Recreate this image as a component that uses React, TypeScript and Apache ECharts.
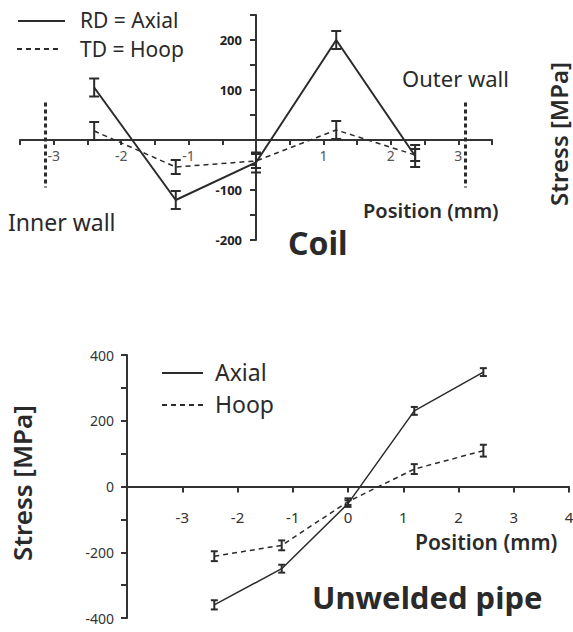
import React, { useEffect, useRef } from "react";
import * as echarts from "echarts";

// ---- Top chart (Coil) ----
const coilPositions = [-2.4, -1.19, 0, 1.19, 2.36];
const coilAxial = [105, -120, -45, 200, -32];
const coilAxialErr = [18, 18, 20, 18, 22];
const coilHoop = [18, -54, -42, 20, -30];
const coilHoopErr = [18, 14, 14, 18, 12];
const coilWallPositions = [-3.13, 3.1];
const coilWallRange = [75, -95];
const coilXRange = [-3.5, 3.5];
const coilYRange = [-200, 250];

// ---- Bottom chart (Unwelded pipe) ----
const pipePositions = [-2.42, -1.2, 0, 1.2, 2.45];
const pipeAxial = [-360, -250, -52, 230, 348];
const pipeAxialErr = [14, 12, 10, 12, 12];
const pipeHoop = [-212, -179, -46, 53, 109];
const pipeHoopErr = [15, 15, 10, 15, 18];
const pipeXRange = [-4, 4];
const pipeYRange = [-400, 400];

const INK = "#2b2b2b";
const FONT = "'Noto Sans'";

const G0 = { left: 20, top: 15, width: 472, height: 225 };
const G1 = { left: 127, top: 355, width: 442, height: 263 };

function errData(xs: number[], vs: number[], es: number[]) {
  return xs.map((x, i) => [x, vs[i] - es[i], vs[i] + es[i]]);
}

function errSeries(data: number[][], gi: number, half: number, width: number) {
  return {
    type: "custom",
    xAxisIndex: gi,
    yAxisIndex: gi,
    data,
    encode: { x: 0, y: [1, 2] },
    z: 5,
    renderItem: (params: any, api: any) => {
      const x = api.value(0);
      const lo = api.coord([x, api.value(1)]);
      const hi = api.coord([x, api.value(2)]);
      const st = { stroke: INK, lineWidth: width };
      return {
        type: "group",
        children: [
          { type: "line", shape: { x1: lo[0], y1: lo[1], x2: hi[0], y2: hi[1] }, style: st },
          { type: "line", shape: { x1: lo[0] - half, y1: lo[1], x2: lo[0] + half, y2: lo[1] }, style: st },
          { type: "line", shape: { x1: hi[0] - half, y1: hi[1], x2: hi[0] + half, y2: hi[1] }, style: st },
        ],
      };
    },
  };
}

function lineSeries(xs: number[], vs: number[], gi: number, dashed: boolean, width: number, extra: any = {}) {
  return {
    type: "line",
    xAxisIndex: gi,
    yAxisIndex: gi,
    data: xs.map((x, i) => [x, vs[i]]),
    symbol: "none",
    lineStyle: { color: INK, width, type: dashed ? [5, 4] : "solid" },
    z: 4,
    ...extra,
  };
}

// offset that moves a bottom x axis up to value 0 of the y range
function xOffset(yr: number[], h: number) {
  return -((0 - yr[0]) / (yr[1] - yr[0])) * h;
}
// offset that moves a left y axis right to value 0 of the x range
function yOffset(xr: number[], w: number) {
  return -((0 - xr[0]) / (xr[1] - xr[0])) * w;
}

export default function App() {
  const ref = useRef<HTMLDivElement>(null);
  useEffect(() => {
    if (!ref.current) return;
    const chart = echarts.init(ref.current, null, { renderer: "svg" });
    const axisLine = { onZero: false, lineStyle: { color: "#333", width: 2 } };
    const txt = (x: number, y: number, text: string, size: number, weight: any = "normal", extra: any = {}) => ({
      type: "text",
      x,
      y,
      style: {
        text,
        font: `${weight} ${size}px ${FONT}`,
        fill: "#2a2a2a",
        verticalAlign: "middle",
        align: "left",
      },
      ...extra,
    });
    const vtxt = (x: number, y: number, text: string, size: number) => ({
      type: "text",
      x,
      y,
      rotation: Math.PI / 2,
      style: {
        text,
        font: `600 ${size}px ${FONT}`,
        fill: "#2a2a2a",
        verticalAlign: "middle",
        align: "center",
      },
    });
    const gline = (x1: number, y1: number, x2: number, y2: number, dashed: boolean) => ({
      type: "line",
      shape: { x1, y1, x2, y2 },
      style: { stroke: INK, lineWidth: 2, lineDash: dashed ? [5, 4] : null },
    });

    chart.setOption({
      animation: false,
      backgroundColor: "#fff",
      grid: [
        { ...G0, outerBoundsMode: "none", containLabel: false },
        { ...G1, outerBoundsMode: "none", containLabel: false },
      ],
      xAxis: [
        {
          gridIndex: 0,
          type: "value",
          position: "bottom",
          offset: xOffset(coilYRange, G0.height),
          min: coilXRange[0],
          max: coilXRange[1],
          interval: 0.5,
          axisLine,
          axisTick: { show: true, length: 5, lineStyle: { color: "#333", width: 2 } },
          splitLine: { show: false },
          axisLabel: {
            margin: 8,
            color: "#555",
            fontFamily: FONT,
            fontSize: 14,
            formatter: (v: number) => (Number.isInteger(v) && v !== 0 ? String(v) : ""),
          },
        },
        {
          gridIndex: 1,
          type: "value",
          position: "bottom",
          offset: xOffset(pipeYRange, G1.height),
          min: pipeXRange[0],
          max: pipeXRange[1],
          interval: 1,
          axisLine,
          axisTick: { show: true, length: 6, lineStyle: { color: "#333", width: 2 } },
          splitLine: { show: false },
          axisLabel: {
            margin: 23,
            color: "#333",
            fontFamily: FONT,
            fontSize: 15,
            showMaxLabel: true,
            formatter: (v: number) => (v !== -4 ? String(v) : ""),
          },
        },
      ],
      yAxis: [
        {
          gridIndex: 0,
          type: "value",
          position: "left",
          offset: yOffset(coilXRange, G0.width),
          min: coilYRange[0],
          max: coilYRange[1],
          interval: 50,
          axisLine,
          axisTick: { show: true, length: 6, lineStyle: { color: "#333", width: 2 } },
          splitLine: { show: false },
          axisLabel: {
            margin: 14,
            color: "#222",
            fontFamily: FONT,
            fontWeight: "bold",
            fontSize: 13,
            formatter: (v: number) => (v % 100 === 0 && v !== 0 ? String(v) : ""),
          },
        },
        {
          gridIndex: 1,
          type: "value",
          position: "left",
          min: pipeYRange[0],
          max: pipeYRange[1],
          interval: 100,
          axisLine,
          axisTick: { show: true, length: 6, lineStyle: { color: "#333", width: 2 } },
          splitLine: { show: false },
          axisLabel: {
            margin: 13,
            color: "#333",
            fontFamily: FONT,
            fontSize: 14,
            formatter: (v: number) => (v % 200 === 0 ? String(v) : ""),
          },
        },
      ],
      series: [
        lineSeries(coilPositions, coilAxial, 0, false, 2, {
          markLine: {
            silent: true,
            symbol: "none",
            label: { show: false },
            lineStyle: { color: INK, width: 3, type: [4, 3] },
            data: coilWallPositions.map((p) => [
              { coord: [p, coilWallRange[0]] },
              { coord: [p, coilWallRange[1]] },
            ]),
          },
        }),
        lineSeries(coilPositions, coilHoop, 0, true, 1.5),
        errSeries(errData(coilPositions, coilAxial, coilAxialErr), 0, 5, 2),
        errSeries(errData(coilPositions, coilHoop, coilHoopErr), 0, 5, 2),
        lineSeries(pipePositions, pipeAxial, 1, false, 1.5),
        lineSeries(pipePositions, pipeHoop, 1, true, 1.5),
        errSeries(errData(pipePositions, pipeAxial, pipeAxialErr), 1, 3.5, 2),
        errSeries(errData(pipePositions, pipeHoop, pipeHoopErr), 1, 3.5, 2),
      ],
      graphic: [
        gline(18, 21, 65, 21, false),
        txt(80, 20, "RD = Axial", 21),
        gline(17, 49, 62, 49, true),
        txt(80, 49, "TD = Hoop", 21),
        txt(8, 222, "Inner wall", 23),
        txt(402, 78, "Outer wall", 22),
        txt(363, 210, "Position (mm)", 20, "600"),
        txt(288, 242, "Coil", 32, "bold"),
        vtxt(558, 134, "Stress [MPa]", 24),
        gline(162, 373, 203, 373, false),
        txt(215, 372, "Axial", 23),
        gline(162, 405, 203, 405, true),
        txt(215, 404, "Hoop", 23),
        txt(415, 542, "Position (mm)", 21, "600"),
        txt(312, 597, "Unwelded pipe", 31, "bold"),
        vtxt(22, 483, "Stress [MPa]", 26),
      ],
    });
    return () => chart.dispose();
  }, []);
  return (
    <div
      ref={ref}
      style={{ position: "absolute", left: 0, top: 0, width: 573, height: 632 }}
    />
  );
}
